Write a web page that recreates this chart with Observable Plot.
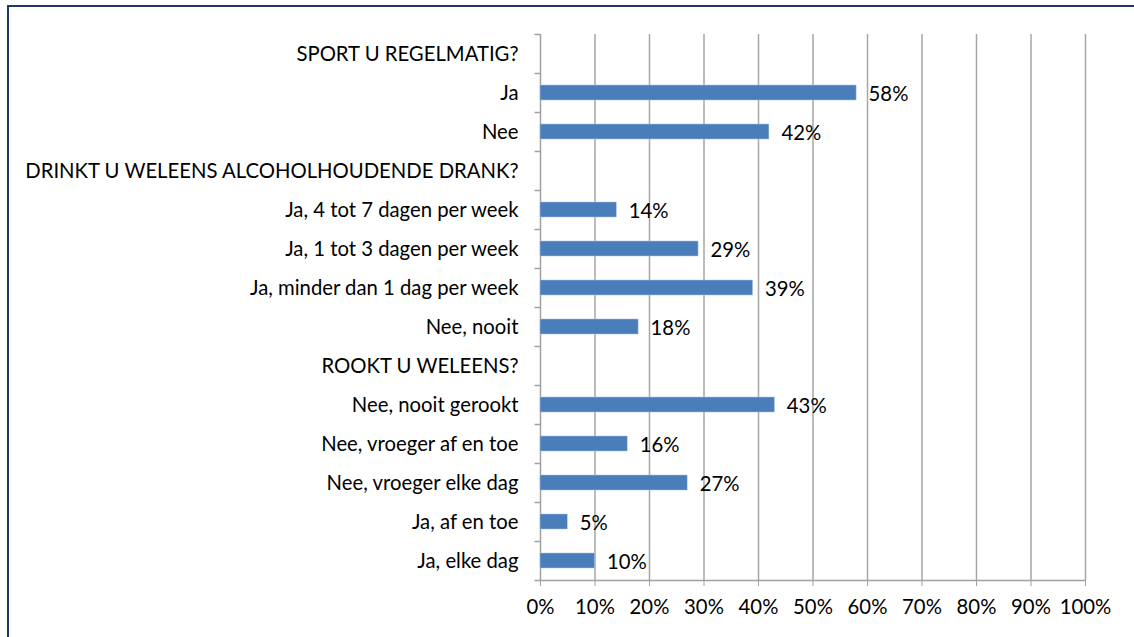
<!DOCTYPE html>
<html>
<head>
<meta charset="utf-8">
<script src="https://cdn.jsdelivr.net/npm/d3@7"></script>
<script src="https://cdn.jsdelivr.net/npm/@observablehq/plot@0.6"></script>
<style>
  html, body { margin: 0; padding: 0; background: #fff; }
  #wrap { position: relative; width: 1134px; height: 637px; overflow: hidden; }
  #frame { position: absolute; left: 7px; top: 5px; width: 1140px; height: 650px; border: 2px solid #1f3864; box-sizing: border-box; pointer-events: none; }
  #chart { position: absolute; left: 0; top: 0; }
  #chart svg { font-family: Lato, "Open Sans", sans-serif; }
</style>
</head>
<body>
<div id="wrap">
  <div id="chart"></div>
  <div id="frame"></div>
</div>
<script>
const categories = [
  "SPORT U REGELMATIG?",
  "Ja",
  "Nee",
  "DRINKT U WELEENS ALCOHOLHOUDENDE DRANK?",
  "Ja, 4 tot 7 dagen per week",
  "Ja, 1 tot 3 dagen per week",
  "Ja, minder dan 1 dag per week",
  "Nee, nooit",
  "ROOKT U WELEENS?",
  "Nee, nooit gerookt",
  "Nee, vroeger af en toe",
  "Nee, vroeger elke dag",
  "Ja, af en toe",
  "Ja, elke dag"
];
const values = [null, 58, 42, null, 14, 29, 39, 18, null, 43, 16, 27, 5, 10];
const xTicks = [0, 10, 20, 30, 40, 50, 60, 70, 80, 90, 100];

const data = categories.map((c, i) => ({category: c, value: values[i]}));
const bars = data.filter(d => d.value != null);

const H = 637, mTop = 34, mBottom = 57;
const step = (H - mTop - mBottom) / categories.length;

const chart = Plot.plot({
  width: 1134,
  height: H,
  marginTop: mTop,
  marginBottom: mBottom,
  marginLeft: 540,
  marginRight: 49,
  style: {fontSize: "20.3px", color: "#000", background: "transparent"},
  x: {domain: [0, 100], ticks: xTicks, tickFormat: d => d + "%", tickSize: 6, tickPadding: 13, label: null},
  y: {domain: categories, padding: 0, tickSize: 0, tickPadding: 22, label: null},
  marks: [
    Plot.ruleX(xTicks.slice(1), {stroke: "#a6a6a6", strokeWidth: 1.5}),
    Plot.ruleX([0], {stroke: "#a0a0a0", strokeWidth: 1.5}),
    Plot.ruleY(categories, {y: d => d, dy: -step / 2, x1: -1, x2: 0, stroke: "#a0a0a0", strokeWidth: 1.5}),
    Plot.ruleY([categories[categories.length - 1]], {y: d => d, dy: step / 2, x1: -1, x2: 100, stroke: "#a0a0a0", strokeWidth: 1.5}),
    Plot.barX(bars, {y: "category", x: "value", fill: "#4a7ebb", stroke: "#a9c4e6", strokeWidth: 0.5, insetTop: 12, insetBottom: 12}),
    Plot.text(bars, {y: "category", x: "value", text: d => d.value + "%", textAnchor: "start", dx: 12, dy: 1, fill: "#000", fontSize: 20.3})
  ]
});
chart.querySelectorAll('[aria-label="x-axis tick"] path, [aria-label="x-axis tick"]').forEach(e => e.setAttribute("stroke", "#a0a0a0"));
document.getElementById("chart").appendChild(chart);
</script>
</body>
</html>
